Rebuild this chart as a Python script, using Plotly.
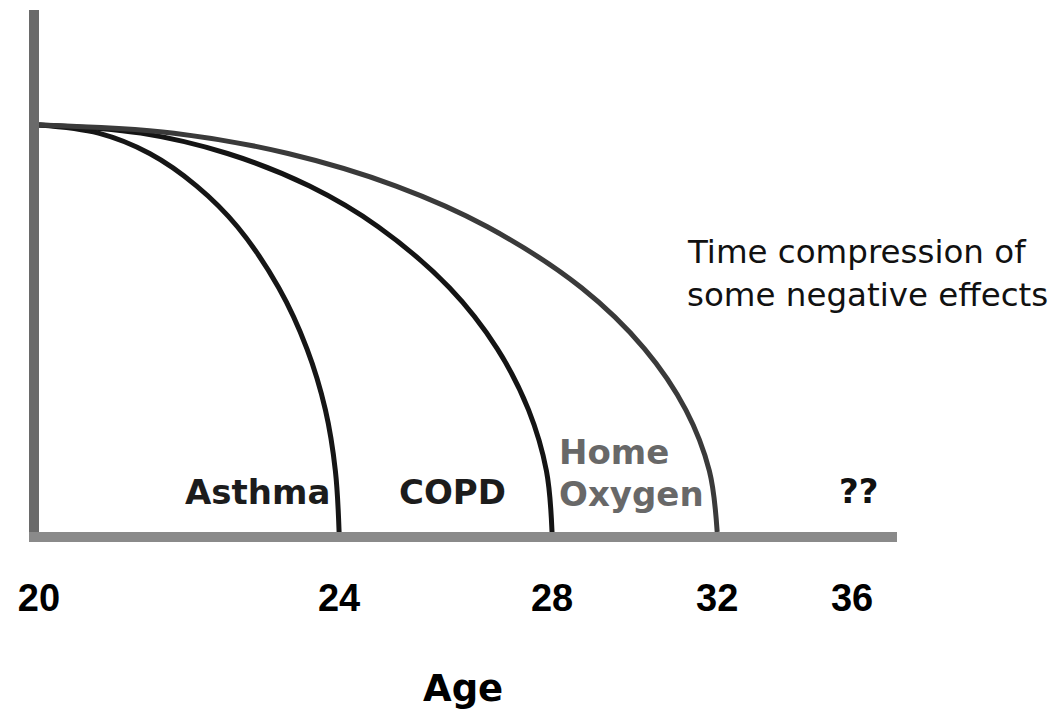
import math
import plotly.graph_objects as go

# ---------------- data ----------------
ages = [20, 24, 28, 32, 36]
age_labels = ["20", "24", "28", "32", "36"]
conditions = ["Asthma", "COPD", "Home Oxygen"]
end_ages = [24, 28, 32]

# relative function level (100 = full at age 20, 0 = on the age axis)
levels = [100, 98, 93, 85, 75, 60, 45, 30, 15, 0]
asthma_age = [20.00, 20.67, 21.29, 21.90, 22.46, 23.06, 23.49, 23.78, 23.94, 24.00]
copd_age = [20.00, 21.18, 22.32, 23.53, 24.65, 25.93, 26.86, 27.50, 27.88, 28.00]
oxygen_age = [20.00, 21.60, 23.20, 24.96, 26.66, 28.65, 30.13, 31.17, 31.79, 32.00]
curve_ages = [asthma_age, copd_age, oxygen_age]

# ---------------- styling / layout ----------------
OFF = 8  # the page body margin shifts the figure by 8px
W, H = 1057 - OFF, 709 - OFF
L_M, R_M, T_M, B_M = 39 - OFF, 160, 10 - OFF, 177
AGE_SHIFT = 12  # the schematic age axis is a log scale of (age - 12)
curve_colors = ["#161616", "#141414", "#3a3a3a"]


def px(x):
    return (x - OFF - L_M) / (W - L_M - R_M)


def py(y):
    return (H - B_M - (y - OFF)) / (H - T_M - B_M)


fig = go.Figure()
for name, xs, col in zip(conditions, curve_ages, curve_colors):
    fig.add_trace(go.Scatter(
        x=[a - AGE_SHIFT for a in xs], y=levels, mode="lines", name=name,
        line=dict(color=col, width=5, shape="spline", smoothing=1.0),
        hoverinfo="skip", showlegend=False))

fig.update_xaxes(
    type="log",
    range=[math.log10(20 - AGE_SHIFT), math.log10(37.5 - AGE_SHIFT)],
    showline=True, linewidth=10, linecolor="#8a8a8a",
    showgrid=False, zeroline=False, ticks="",
    tickvals=[a - AGE_SHIFT for a in ages], ticktext=age_labels,
    tickfont=dict(family="Liberation Sans", size=38, color="#000", weight="bold"),
    ticklabelstandoff=23,
)
fig.update_yaxes(
    range=[0, 128.26], showline=True, linewidth=10, linecolor="#6a6a6a",
    showgrid=False, zeroline=False, showticklabels=False, ticks="",
)

bold = dict(family="DejaVu Sans", size=34, weight="bold")
ann = [
    dict(text="Asthma", x=px(257), y=py(492), font=dict(bold, color="#1c1c1c"), xanchor="center"),
    dict(text="COPD", x=px(452), y=py(492), font=dict(bold, color="#1c1c1c"), xanchor="center"),
    dict(text="Home", x=px(557), y=py(452), font=dict(bold, color="#686868"), xanchor="left"),
    dict(text="Oxygen", x=px(557), y=py(494), font=dict(bold, color="#686868"), xanchor="left"),
    dict(text="??", x=px(858), y=py(491), font=dict(bold, color="#111"), xanchor="center"),
    dict(text="Age", x=px(463), y=py(688), font=dict(family="DejaVu Sans", size=37, weight="bold", color="#000"), xanchor="center"),
    dict(text="Time compression of", x=px(685), y=py(252), font=dict(family="DejaVu Sans", size=32.5, color="#111"), xanchor="left"),
    dict(text="some negative effects", x=px(685), y=py(295), font=dict(family="DejaVu Sans", size=32.5, color="#111"), xanchor="left"),
]
for a in ann:
    a.update(xref="paper", yref="paper", yanchor="middle", showarrow=False)
fig.update_layout(
    annotations=ann,
    width=W, height=H,
    margin=dict(l=L_M, r=R_M, t=T_M, b=B_M, autoexpand=False),
    paper_bgcolor="white", plot_bgcolor="white",
)
fig.write_html("out.html")
